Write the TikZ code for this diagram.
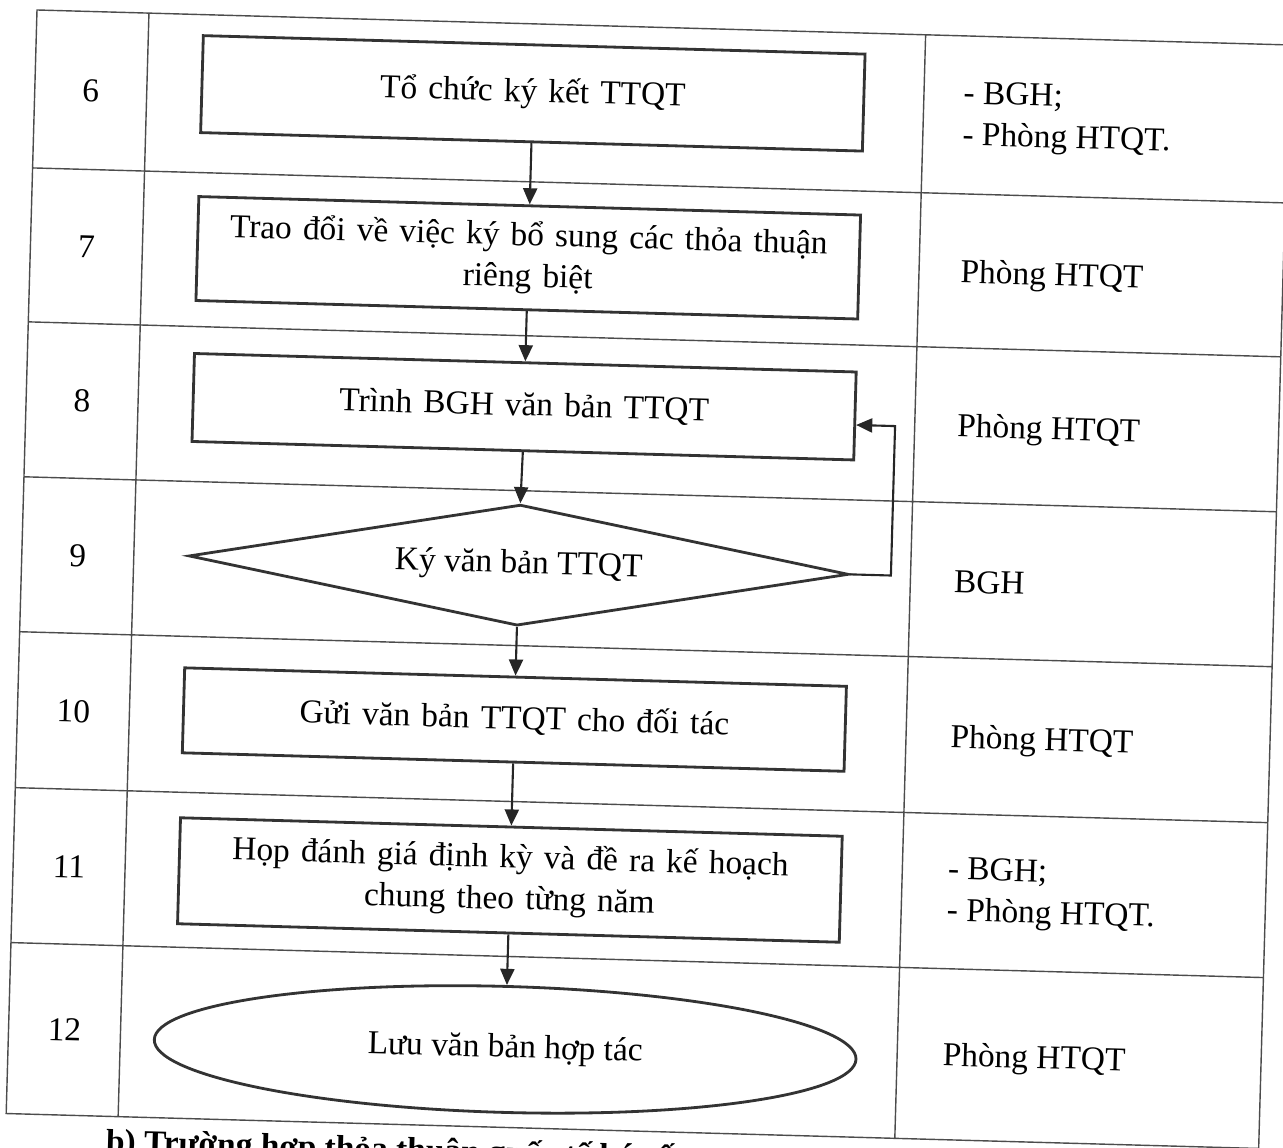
\documentclass[tikz,border=0pt]{standalone}
\usepackage{fontspec}
\setmainfont{Liberation Serif}
\usetikzlibrary{shapes.geometric,arrows.meta}

\begin{document}
\begin{tikzpicture}[every node/.style={font=\fontsize{9.5}{11.8}\selectfont}]
    \tikzset{box/.style={rectangle, draw=black!80, line width=0.8pt, minimum width=6.62cm, text width=6.3cm, align=center},
             resp/.style={anchor=west, inner sep=0pt, align=left},
             flow/.style={draw=black!85, line width=0.6pt, -{Triangle[width=4pt,length=4.6pt]}}}
    \useasboundingbox (0,0) rectangle (12.83,-11.47);
    \begin{scope}[shift={(0.37,-0.10)}, rotate=-1.6, transform shape]
    \draw[black!70, line width=0.4pt] (0,0) rectangle (12.53,-11.04)
        (1.12,0)--(1.12,-11.04) (8.89,0)--(8.89,-11.04)
        (0,-1.58)--(12.53,-1.58) (0,-3.12)--(12.53,-3.12) (0,-4.67)--(12.53,-4.67)
        (0,-6.22)--(12.53,-6.22) (0,-7.78)--(12.53,-7.78) (0,-9.33)--(12.53,-9.33);
    \node (n6) at (0.56,-0.79) {6};
    \node (n7) at (0.56,-2.35) {7};
    \node (n8) at (0.56,-3.895) {8};
    \node (n9) at (0.56,-5.445) {9};
    \node (n10) at (0.56,-7.0) {10};
    \node (n11) at (0.56,-8.555) {11};
    \node (n12) at (0.56,-10.185) {12};
    \node[box, minimum height=0.97cm] (b6) at (4.98,-0.695) {Tổ chức ký kết TTQT};
    \node[box, minimum height=1.04cm] (b7) at (4.98,-2.34) {Trao đổi về việc ký bổ sung các thỏa thuận\\riêng biệt};
    \node[box, minimum height=0.88cm] (b8) at (4.98,-3.83) {Trình BGH văn bản TTQT};
    \node[diamond, draw=black!80, line width=0.8pt, aspect=5.45, inner sep=1pt, minimum width=6.6cm, minimum height=1.21cm] (d9) at (4.97,-5.415) {Ký văn bản TTQT};
    \node[box, minimum height=0.85cm] (b10) at (4.97,-6.96) {Gửi văn bản TTQT cho đối tác};
    \node[box, minimum height=1.06cm] (b11) at (4.97,-8.565) {Họp đánh giá định kỳ và đề ra kế hoạch\\chung theo từng năm};
    \node[ellipse, draw=black!80, line width=0.8pt, minimum width=7.02cm, minimum height=1.26cm] (e12) at (4.97,-10.26) {Lưu văn bản hợp tác};
    \draw[flow] (b6.south) -- (b7.north);
    \draw[flow] (b7.south) -- (b8.north);
    \draw[flow] (b8.south) -- (d9.north);
    \draw[flow] (d9.south) -- (b10.north);
    \draw[flow] (b10.south) -- (b11.north);
    \draw[flow] (b11.south) -- (e12.north);
    \draw[flow] (d9.east) -- ++(0.41,0) |- ([yshift=-0.09cm]b8.east);
    \node[resp] (r6) at (9.28,-0.81) {- BGH;\\- Phòng HTQT.};
    \node[resp] (r7) at (9.30,-2.39) {Phòng HTQT};
    \node[resp] (r8) at (9.31,-3.93) {Phòng HTQT};
    \node[resp] (r9) at (9.32,-5.46) {BGH};
    \node[resp] (r10) at (9.33,-7.04) {Phòng HTQT};
    \node[resp] (r11) at (9.34,-8.57) {- BGH;\\- Phòng HTQT.};
    \node[resp] (r12) at (9.34,-10.22) {Phòng HTQT};
    \node[anchor=base west, inner sep=0pt, font=\fontsize{9.5}{11.8}\selectfont\bfseries] (note) at (1.0,-11.40) {b) Trường hợp thỏa thuận quốc tế ký cấp};
    \end{scope}
\end{tikzpicture}
\end{document}
